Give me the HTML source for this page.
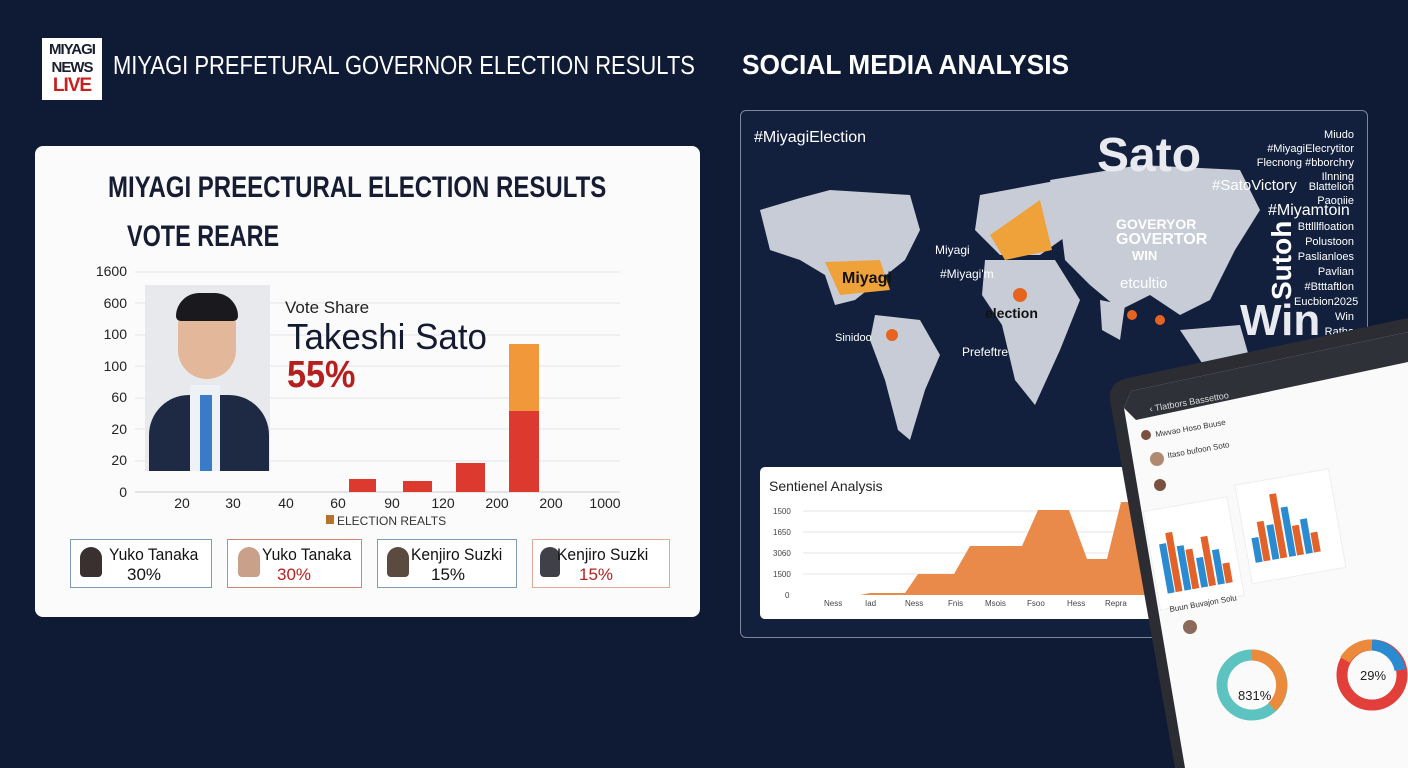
<!DOCTYPE html>
<html><head><meta charset="utf-8"><style>
*{margin:0;padding:0;box-sizing:border-box}
body{width:1408px;height:768px;background:#0f1b35;font-family:"Liberation Sans",sans-serif;position:relative;overflow:hidden}
.a{position:absolute;white-space:nowrap}
</style></head><body>
<div class="a" style="left:42px;top:38px;width:60px;height:62px;background:#fff;padding-top:3px;text-align:center;font-weight:bold;line-height:18px;font-size:15px;color:#1a1f2e;letter-spacing:-1px">MIYAGI<br>NEWS<br><span style="color:#c8201e;font-size:19px">LIVE</span></div>
<div class="a" style="left:113px;top:50px;color:#fff;font-size:26px;transform:scaleX(0.845);transform-origin:left">MIYAGI PREFETURAL GOVERNOR ELECTION RESULTS</div>
<div class="a" style="left:742px;top:49px;color:#fff;font-size:28px;font-weight:bold;transform:scaleX(0.94);transform-origin:left">SOCIAL MEDIA ANALYSIS</div>

<div class="a" style="left:35px;top:146px;width:665px;height:471px;background:#fbfbfc;border-radius:8px"></div>
<div class="a" style="left:108px;top:171px;font-size:30px;font-weight:bold;color:#161d33;transform:scaleX(0.8);transform-origin:left">MIYAGI PREECTURAL ELECTION RESULTS</div>
<div class="a" style="left:127px;top:220px;font-size:30px;font-weight:bold;color:#161d33;transform:scaleX(0.78);transform-origin:left">VOTE REARE</div>
<svg class="a" style="left:0;top:0" width="710" height="630">
<g stroke="#e3e4e8" stroke-width="1">
<line x1="135" y1="272" x2="620" y2="272"/><line x1="135" y1="303" x2="620" y2="303"/><line x1="135" y1="335" x2="620" y2="335"/><line x1="135" y1="366" x2="620" y2="366"/><line x1="135" y1="398" x2="620" y2="398"/><line x1="135" y1="429" x2="620" y2="429"/><line x1="135" y1="461" x2="620" y2="461"/><line x1="135" y1="492" x2="620" y2="492" stroke="#ccc"/></g>
<g font-size="14" fill="#222" text-anchor="end" font-family="Liberation Sans">
<text x="127" y="276">1600</text><text x="127" y="308">600</text><text x="127" y="339">100</text><text x="127" y="371">100</text><text x="127" y="402">60</text><text x="127" y="434">20</text><text x="127" y="465">20</text><text x="127" y="497">0</text></g>
<g font-size="14" fill="#222" text-anchor="middle" font-family="Liberation Sans">
<text x="182" y="508">20</text><text x="233" y="508">30</text><text x="286" y="508">40</text><text x="338" y="508">60</text><text x="392" y="508">90</text><text x="443" y="508">120</text><text x="497" y="508">200</text><text x="551" y="508">200</text><text x="605" y="508">1000</text></g>
<rect x="349" y="479" width="27" height="13" fill="#dc3a2f"/>
<rect x="403" y="481" width="29" height="11" fill="#dc3a2f"/>
<rect x="456" y="463" width="29" height="29" fill="#dc3a2f"/>
<rect x="509" y="344" width="30" height="67" fill="#f0983a"/>
<rect x="509" y="411" width="30" height="81" fill="#dc3a2f"/>
<rect x="326" y="515" width="8" height="9" fill="#b8732a"/>
<text x="337" y="525" font-size="12" fill="#333" font-family="Liberation Sans">ELECTION REALTS</text>
</svg>
<div class="a" style="left:145px;top:285px;width:125px;height:186px;background:#e8e9ec;overflow:hidden">
<div class="a" style="left:4px;top:110px;width:120px;height:90px;background:#1e2a44;border-radius:40px 40px 0 0"></div>
<div class="a" style="left:45px;top:100px;width:30px;height:90px;background:#eef2f7"></div>
<div class="a" style="left:55px;top:110px;width:12px;height:80px;background:#3a7bc8"></div>
<div class="a" style="left:33px;top:14px;width:58px;height:80px;background:#e3b79a;border-radius:28px 28px 30px 30px"></div>
<div class="a" style="left:31px;top:8px;width:62px;height:28px;background:#1a1a1e;border-radius:30px 30px 6px 6px"></div>
</div>
<div class="a" style="left:285px;top:298px;font-size:17px;color:#222">Vote Share</div>
<div class="a" style="left:287px;top:316px;font-size:36px;color:#141a30;transform:scaleX(0.97);transform-origin:left">Takeshi Sato</div>
<div class="a" style="left:287px;top:354px;font-size:38px;color:#b5201f;font-weight:bold;transform:scaleX(0.9);transform-origin:left">55%</div>

<div class="a" style="left:70px;top:539px;width:142px;height:49px;border:1px solid #7e9cb6;background:#fff"></div>
<div class="a" style="left:227px;top:539px;width:135px;height:49px;border:1px solid #d0857a;background:#fff"></div>
<div class="a" style="left:377px;top:539px;width:140px;height:49px;border:1px solid #7e9cb6;background:#fff"></div>
<div class="a" style="left:532px;top:539px;width:138px;height:49px;border:1px solid #e0a898;background:#fff"></div>
<div class="a" style="left:80px;top:547px;width:22px;height:30px;background:#3a3030;border-radius:11px 11px 4px 4px"></div>
<div class="a" style="left:238px;top:547px;width:22px;height:30px;background:#c9a08a;border-radius:11px 11px 4px 4px"></div>
<div class="a" style="left:387px;top:547px;width:22px;height:30px;background:#5a4a40;border-radius:11px 11px 4px 4px"></div>
<div class="a" style="left:540px;top:547px;width:20px;height:30px;background:#404048;border-radius:10px 10px 4px 4px"></div>
<div class="a" style="left:109px;top:545px;font-size:17px;color:#111;transform:scaleX(0.92);transform-origin:left">Yuko Tanaka</div>
<div class="a" style="left:127px;top:565px;font-size:17px;color:#111">30%</div>
<div class="a" style="left:262px;top:545px;font-size:17px;color:#111;transform:scaleX(0.92);transform-origin:left">Yuko Tanaka</div>
<div class="a" style="left:277px;top:565px;font-size:17px;color:#b5201f">30%</div>
<div class="a" style="left:411px;top:545px;font-size:17px;color:#111;transform:scaleX(0.92);transform-origin:left">Kenjiro Suzki</div>
<div class="a" style="left:431px;top:565px;font-size:17px;color:#111">15%</div>
<div class="a" style="left:557px;top:545px;font-size:17px;color:#111;transform:scaleX(0.92);transform-origin:left">Kenjiro Suzki</div>
<div class="a" style="left:579px;top:565px;font-size:17px;color:#b5201f">15%</div>

<div class="a" style="left:740px;top:110px;width:628px;height:528px;border:1px solid #7c869c;border-radius:6px;background:#12203d"></div>
<svg class="a" style="left:740px;top:110px" width="628" height="528">
<g fill="#c8ccd6">
<path d="M20 100 L60 88 L90 80 L170 85 L180 120 L165 150 L140 170 L115 190 L95 195 L85 165 L60 150 L30 140 Z"/>
<path d="M135 205 L180 210 L200 245 L185 280 L170 330 L158 320 L145 270 L130 230 Z"/>
<path d="M240 85 L320 70 L335 120 L300 145 L260 145 L235 120 Z"/>
<path d="M245 150 L315 150 L340 190 L320 240 L295 295 L275 270 L262 215 L242 185 Z"/>
<path d="M310 70 L400 55 L500 60 L520 100 L495 140 L470 190 L440 205 L410 185 L380 200 L350 175 L325 150 L320 110 Z"/>
<path d="M440 220 L500 215 L510 250 L470 265 Z"/>
<path d="M360 190 L385 195 L380 230 L362 220 Z"/>
</g>
<path d="M85 152 L140 150 L150 180 L100 185 Z" fill="#f0a23a"/>
<path d="M250 125 L300 90 L312 140 L265 150 Z" fill="#f0a23a"/>
<circle cx="280" cy="185" r="7" fill="#e5641f"/><circle cx="152" cy="225" r="6" fill="#e5641f"/><circle cx="392" cy="205" r="5" fill="#e5641f"/><circle cx="420" cy="210" r="5" fill="#e5641f"/>
</svg>
<div class="a" style="left:754px;top:129px;font-size:16px;color:#fff">#MiyagiElection</div>
<div class="a" style="left:1097px;top:128px;font-size:48px;color:#e8eaef;font-weight:bold">Sato</div>
<div class="a" style="left:1240px;top:296px;font-size:44px;color:#e8eaef;font-weight:bold">Win</div>
<div class="a" style="left:1212px;top:177px;font-size:15px;color:#fff">#SatoVictory</div>
<div class="a" style="left:1268px;top:202px;font-size:16px;color:#fff">#Miyamtoin</div>
<div class="a" style="left:1116px;top:216px;font-size:14px;color:#fff;font-weight:bold">GOVERYOR</div>
<div class="a" style="left:1116px;top:231px;font-size:16px;color:#fff;font-weight:bold">GOVERTOR</div>
<div class="a" style="left:1132px;top:248px;font-size:13px;color:#fff;font-weight:bold">WIN</div>
<div class="a" style="left:1120px;top:275px;font-size:15px;color:#fff">etcultio</div>
<div class="a" style="left:842px;top:270px;font-size:16px;color:#111;font-weight:bold">Miyagi</div>
<div class="a" style="left:985px;top:305px;font-size:14px;color:#111;font-weight:bold">election</div>
<div class="a" style="left:935px;top:243px;font-size:12px;color:#fff">Miyagi</div>
<div class="a" style="left:940px;top:267px;font-size:12px;color:#fff">#Miyagi'm</div>
<div class="a" style="left:962px;top:345px;font-size:12px;color:#fff">Prefeftre</div>
<div class="a" style="left:835px;top:332px;font-size:11px;color:#fff">Sinidoo</div>
<div class="a" style="left:1252px;top:128px;font-size:11px;color:#fff;line-height:14px;text-align:right;width:102px">Miudo<br>#MiyagiElecrytitor<br>Flecnong #bborchry<br>Ilnning</div>
<div class="a" style="left:1280px;top:180px;font-size:11px;color:#fff;line-height:14px;text-align:right;width:74px">Blattelion<br>Paoniie</div>
<div class="a" style="left:1294px;top:220px;font-size:11px;color:#fff;line-height:15px;text-align:right;width:60px">Bttlllfloation<br>Polustoon<br>Paslianloes<br>Pavlian<br>#Btttaftlon<br>Eucbion2025<br>Win<br>Ratho</div>
<div class="a" style="left:1266px;top:300px;font-size:28px;color:#fff;font-weight:bold;transform:rotate(-90deg);transform-origin:left top">Sutoh</div>

<div class="a" style="left:760px;top:467px;width:400px;height:152px;background:#fff;border-radius:5px"></div>
<div class="a" style="left:769px;top:478px;font-size:14px;color:#222">Sentienel Analysis</div>
<svg class="a" style="left:760px;top:467px" width="400" height="152">
<g stroke="#e6e6e6"><line x1="43" y1="44" x2="400" y2="44"/><line x1="43" y1="65" x2="400" y2="65"/><line x1="43" y1="86" x2="400" y2="86"/><line x1="43" y1="107" x2="400" y2="107"/></g>
<path d="M43 128 L100 128 L110 126 L145 126 L158 107 L194 107 L210 79 L262 79 L278 43 L309 43 L327 92 L347 92 L361 35 L400 35 L400 128 Z" fill="#e98a4b"/>
<g font-size="8" fill="#444" font-family="Liberation Sans"><text x="13" y="47">1500</text><text x="13" y="68">1650</text><text x="13" y="89">3060</text><text x="13" y="110">1500</text><text x="25" y="131">0</text>
<text x="64" y="139">Ness</text><text x="105" y="139">Iad</text><text x="145" y="139">Ness</text><text x="188" y="139">Fnis</text><text x="225" y="139">Msois</text><text x="267" y="139">Fsoo</text><text x="307" y="139">Hess</text><text x="345" y="139">Repra</text></g>
</svg>

<svg class="a" style="left:0;top:0" width="1408" height="768">
<path d="M1128 378 L1408 318 L1408 768 L1175 768 L1110 400 Q1108 382 1128 378 Z" fill="#2b2d33"/>
<path d="M1131 391 L1408 332 L1408 768 L1185 768 L1124 408 Z" fill="#fafafa"/>
<path d="M1131 391 L1408 332 L1408 362 L1136 420 L1124 408 Z" fill="#2e3138"/>
<text x="1150" y="412" font-size="9" fill="#ddd" transform="rotate(-10 1150 412)" font-family="Liberation Sans">‹  Tlatbors Bassettoo</text>
<g transform="rotate(-10 1270 540)">
<rect x="1150" y="490" width="85" height="100" fill="#fff" stroke="#eee"/>
<rect x="1245" y="480" width="95" height="100" fill="#fff" stroke="#eee"/>
<g fill="#e2622a"><rect x="1168" y="515" width="7" height="60"/><rect x="1185" y="535" width="7" height="40"/><rect x="1202" y="525" width="7" height="50"/><rect x="1219" y="555" width="7" height="20"/><rect x="1260" y="520" width="7" height="40"/><rect x="1277" y="495" width="7" height="65"/><rect x="1294" y="530" width="7" height="30"/><rect x="1311" y="540" width="7" height="20"/></g>
<g fill="#2b8bd1"><rect x="1160" y="525" width="7" height="50"/><rect x="1177" y="530" width="7" height="45"/><rect x="1194" y="545" width="7" height="30"/><rect x="1211" y="540" width="7" height="35"/><rect x="1252" y="535" width="7" height="25"/><rect x="1269" y="525" width="7" height="35"/><rect x="1286" y="510" width="7" height="50"/><rect x="1303" y="525" width="7" height="35"/></g>
</g>
<circle cx="1252" cy="685" r="30" fill="none" stroke="#5cc3c0" stroke-width="11"/>
<path d="M1252 655 A30 30 0 0 1 1272 707" fill="none" stroke="#eb8a3b" stroke-width="11"/>
<text x="1238" y="700" font-size="13" fill="#222" font-family="Liberation Sans">831%</text>
<circle cx="1372" cy="675" r="30" fill="none" stroke="#e23e3a" stroke-width="11"/>
<path d="M1372 645 A30 30 0 0 1 1400 670" fill="none" stroke="#2b8bd1" stroke-width="11"/>
<path d="M1345 660 A30 30 0 0 1 1372 645" fill="none" stroke="#eb8a3b" stroke-width="11"/>
<text x="1360" y="680" font-size="13" fill="#222" font-family="Liberation Sans">29%</text>
<circle cx="1146" cy="435" r="5" fill="#7a5040"/><circle cx="1157" cy="459" r="7" fill="#b08a70"/><circle cx="1160" cy="485" r="6" fill="#7a5040"/><circle cx="1190" cy="627" r="7" fill="#8a6a58"/>
<g font-size="8" fill="#333" font-family="Liberation Sans"><text x="1156" y="437" transform="rotate(-10 1156 437)">Mwvao Hoso Buuse</text><text x="1168" y="458" transform="rotate(-10 1168 458)">Itaso bufoon Soto</text><text x="1170" y="612" transform="rotate(-10 1170 612)">Buun Buvajon Solu</text></g>
</svg>
</body></html>
